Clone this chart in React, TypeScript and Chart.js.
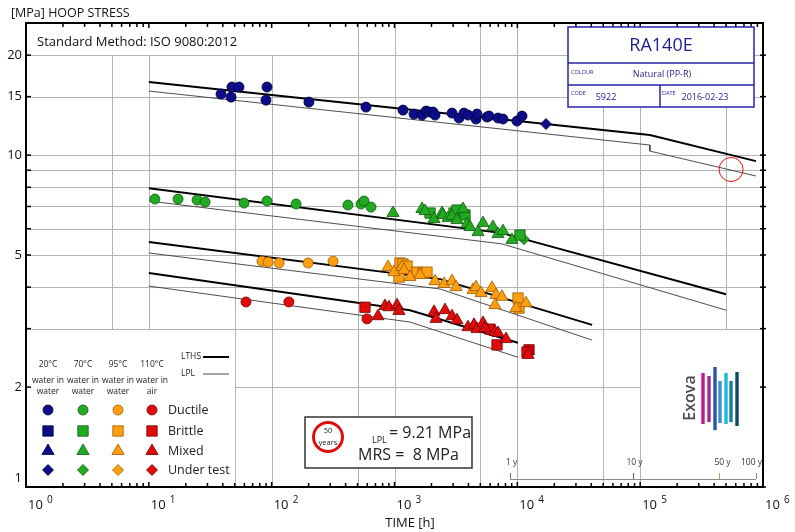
import React, { useEffect, useRef } from 'react';
import { Chart, registerables } from 'chart.js';
Chart.register(...registerables);

const FONT = '"Open Sans", "Noto Sans", "DejaVu Sans", sans-serif';

// ---- axes ----
const X_MIN = 1, X_MAX = 1e6, Y_MIN = 1, Y_MAX = 25;
const xDecades = [1, 10, 100, 1000, 10000, 100000, 1000000];
const xDecadeExponents = ['0', '1', '2', '3', '4', '5', '6'];
const xGridValues = [5, 10, 50, 100, 500, 1000, 5000, 10000, 50000, 100000, 500000];
const yGridValues = [2, 3, 4, 5, 6, 7, 8, 9, 10, 15, 20];
const yTickLabels = [1, 2, 5, 10, 15, 20];

// ---- year scale ----
const yearMarks = [8760, 87600, 438000, 876000];
const yearLabels = ['1 y', '10 y', '50 y', '100 y'];
const yearColors = ['#5b8a5b', '#3a5a9a', '#b0a070', '#8a8a8a'];

// ---- reference lines [hours, MPa] ----
const lths20: [number, number][] = [[10, 16.6], [120000, 11.49], [876000, 9.59]];
const lpl20: [number, number][] = [[10, 15.59], [120000, 10.72], [120000, 10.28], [876000, 8.65]];
const lths70: [number, number][] = [[10, 7.95], [7500, 5.82], [500000, 3.81]];
const lpl70: [number, number][] = [[10, 7.27], [7500, 5.4], [500000, 3.41]];
const lths95: [number, number][] = [[10, 5.47], [2350, 4.23], [40600, 3.08]];
const lpl95: [number, number][] = [[10, 5.07], [2350, 3.95], [40600, 2.77]];
const lths110: [number, number][] = [[10, 4.41], [1337, 3.41], [10100, 2.72]];
const lpl110: [number, number][] = [[10, 4.03], [1337, 3.14], [10100, 2.46]];

// ---- test points [hours, MPa] ----
const blueDuctile: [number, number][] = [
  [38.7, 15.27], [47.5, 16.03], [54.2, 16.03], [46.7, 14.95], [91.6, 16.03], [89.9, 14.64], [201, 14.44],
  [586, 13.95], [1173, 13.66], [1442, 13.29], [1675, 13.2], [1806, 13.57], [1910, 13.48], [2058, 13.48],
  [2137, 13.2], [2940, 13.38], [3352, 12.93], [3680, 13.38], [3966, 13.2], [4610, 12.84], [4697, 13.29],
  [5664, 13.02], [5877, 13.11], [6964, 12.93], [7643, 12.84], [9935, 12.66], [10920, 13.11],
];
const blueUnderTest: [number, number][] = [[17120, 12.4]];

const greenDuctile: [number, number][] = [
  [11.2, 7.37], [17.3, 7.37], [24.7, 7.32], [28.7, 7.22], [59.5, 7.17], [91.6, 7.27], [158, 7.12],
  [418, 7.07], [534, 7.12], [565, 7.27], [644, 6.97],
];
const greenMixed: [number, number][] = [
  [973, 6.69], [1675, 6.88], [1772, 6.78], [2098, 6.42], [2437, 6.69], [2483, 6.6], [2727, 6.46],
  [2940, 6.55], [3228, 6.37], [3613, 6.88], [3894, 6.2], [4120, 6.07], [5255, 6.24], [4786, 5.86],
  [6339, 6.07], [6964, 5.78], [7643, 5.9], [9051, 5.55],
];
const greenBrittle: [number, number][] = [[1946, 6.69], [3051, 6.69], [3228, 6.83], [3751, 6.6], [10510, 5.74]];
const greenUnderTest: [number, number][] = [[11330, 5.58]];

const orangeDuctile: [number, number][] = [[83.4, 4.79], [93.4, 4.76], [115, 4.73], [198, 4.73], [316, 4.79]];
const orangeMixed: [number, number][] = [
  [886, 4.6], [991, 4.44], [1151, 4.6], [1195, 4.5], [1337, 4.29], [1613, 4.35], [2137, 4.17],
  [2530, 4.09], [2940, 4.17], [3168, 4.0], [4357, 3.92], [4610, 4.0], [5062, 3.84], [6221, 3.98],
  [6705, 3.79], [7504, 3.74], [6582, 3.53], [11770, 3.58], [9757, 3.46],
];
const orangeBrittle: [number, number][] = [
  [1109, 4.73], [1173, 4.7], [1265, 4.63], [1088, 4.29], [1525, 4.44], [1707, 4.41], [1839, 4.44],
  [10130, 3.71], [10320, 3.46],
];

const redDuctile: [number, number][] = [[61.8, 3.61], [138, 3.61], [597, 3.21]];
const redBrittle: [number, number][] = [[575, 3.48], [5992, 2.99], [6832, 2.68], [12450, 2.59], [11990, 2.55]];
const redMixed: [number, number][] = [
  [734, 3.27], [837, 3.51], [902, 3.48], [1048, 3.53], [1088, 3.39], [2098, 3.37], [2178, 3.21],
  [2578, 3.41], [2940, 3.27], [3228, 3.18], [3966, 3.03], [4440, 3.08], [4697, 2.99], [5255, 3.12],
  [5457, 3.01], [6582, 2.93], [6964, 2.91], [8090, 2.79], [12220, 2.5],
];

// MRS / LPL marker at 50 years
const lplMarker: [number, number] = [550000, 9.05];

// ---- legend ----
const legendTemps = ['20°C', '70°C', '95°C', '110°C'];
const legendMedia = [['water in', 'water'], ['water in', 'water'], ['water in', 'water'], ['water in', 'air']];
const legendTypes = ['Ductile', 'Brittle', 'Mixed', 'Under test'];

const BLUE = '#0d0d8a', BLUE_E = '#00003a';
const GREEN = '#22aa22', GREEN_E = '#0f5a0f';
const ORANGE = '#ff9f10', ORANGE_E = '#9a5a00';
const RED = '#e00c0c', RED_E = '#700000';
const tempColors = [[BLUE, BLUE_E], [GREEN, GREEN_E], [ORANGE, ORANGE_E], [RED, RED_E]];

const toXY = (arr: [number, number][]) => arr.map(([x, y]) => ({ x, y }));

function lineDs(arr: [number, number][], thick: boolean) {
  return {
    data: toXY(arr), showLine: true, pointRadius: 0, borderColor: thick ? '#000' : '#3a3a3a',
    borderWidth: thick ? 2 : 0.9, fill: false, order: 5, tension: 0,
  };
}
function ptDs(arr: [number, number][], style: string, fill: string, edge: string) {
  const r = style === 'circle' ? 5 : style === 'rect' ? 7.3 : style === 'triangle' ? 7 : 5.5;
  return {
    data: toXY(arr), showLine: false, pointStyle: style, pointRadius: r, pointBackgroundColor: fill,
    pointBorderColor: edge, pointBorderWidth: 0.8, order: 0,
  };
}

function marker(ctx: CanvasRenderingContext2D, style: string, x: number, y: number, fill: string, edge: string) {
  ctx.beginPath();
  if (style === 'circle') ctx.arc(x, y, 5, 0, Math.PI * 2);
  else if (style === 'rect') ctx.rect(x - 5.2, y - 5.2, 10.4, 10.4);
  else if (style === 'triangle') { ctx.moveTo(x, y - 7); ctx.lineTo(x + 6.1, y + 3.5); ctx.lineTo(x - 6.1, y + 3.5); ctx.closePath(); }
  else { ctx.moveTo(x, y - 5.5); ctx.lineTo(x + 5.5, y); ctx.lineTo(x, y + 5.5); ctx.lineTo(x - 5.5, y); ctx.closePath(); }
  ctx.fillStyle = fill; ctx.fill(); ctx.strokeStyle = edge; ctx.lineWidth = 0.8; ctx.stroke();
}

const decor = {
  id: 'decor',
  beforeDatasetsDraw(chart: any) {
    const { ctx, chartArea: a, scales: { x, y } } = chart;
    ctx.save();
    ctx.strokeStyle = '#b4b4b4'; ctx.lineWidth = 1;
    for (const v of yGridValues) {
      const py = Math.round(y.getPixelForValue(v)) + 0.5;
      ctx.beginPath(); ctx.moveTo(a.left, py); ctx.lineTo(a.right, py); ctx.stroke();
    }
    const y20 = y.getPixelForValue(20);
    for (const v of xGridValues) {
      const px = Math.round(x.getPixelForValue(v)) + 0.5;
      ctx.beginPath(); ctx.moveTo(px, v >= 500 ? a.top : y20); ctx.lineTo(px, a.bottom); ctx.stroke();
    }
    ctx.fillStyle = '#fff';
    const y3 = Math.round(y.getPixelForValue(3));
    const x50 = Math.round(x.getPixelForValue(50));
    ctx.fillRect(a.left + 1, y3 + 1, x50 - a.left - 1, a.bottom - y3 - 1);
    const x1e5 = Math.round(x.getPixelForValue(1e5));
    ctx.fillRect(x1e5 + 1.5, y3 + 1, a.right - x1e5 - 2, a.bottom - y3 - 1);
    ctx.restore();
  },
  afterDatasetsDraw(chart: any) {
    const { ctx, chartArea: a, scales: { x, y } } = chart;
    ctx.save();
    // frame
    ctx.strokeStyle = '#000'; ctx.lineWidth = 2;
    ctx.strokeRect(a.left, a.top, a.right - a.left, a.bottom - a.top);
    // x ticks
    ctx.lineWidth = 1.5;
    for (let d = 0; d < 6; d++) {
      for (let m = 1; m <= 9; m++) {
        const v = m * Math.pow(10, d);
        const px = x.getPixelForValue(v);
        const len = m === 1 ? 5 : 4;
        ctx.beginPath(); ctx.moveTo(px, a.bottom); ctx.lineTo(px, a.bottom - len); ctx.stroke();
        ctx.beginPath(); ctx.moveTo(px, a.top); ctx.lineTo(px, a.top + len); ctx.stroke();
      }
    }
    // y ticks
    for (const v of [...yGridValues, 1]) {
      const py = y.getPixelForValue(v);
      ctx.beginPath(); ctx.moveTo(a.left, py); ctx.lineTo(a.left + 5, py); ctx.stroke();
      ctx.beginPath(); ctx.moveTo(a.right - 3, py); ctx.lineTo(a.right + 3, py); ctx.stroke();
    }
    // y labels
    ctx.fillStyle = '#111'; ctx.font = `13px ${FONT}`; ctx.textAlign = 'right'; ctx.textBaseline = 'middle';
    for (const v of yTickLabels) {
      const py = y.getPixelForValue(v);
      ctx.fillText(String(v), 22, v === 1 ? py - 9 : py);
    }
    // x labels
    ctx.textAlign = 'left';
    xDecades.forEach((v, i) => {
      const px = x.getPixelForValue(v);
      ctx.font = `13px ${FONT}`; ctx.fillText('10', px + 2, 505);
      ctx.font = `10px ${FONT}`; ctx.fillText(xDecadeExponents[i], px + 21, 500);
    });
    ctx.font = `13px ${FONT}`; ctx.textAlign = 'center';
    ctx.fillText('TIME [h]', 410, 523);
    // titles
    ctx.textAlign = 'left';
    ctx.font = `12.5px ${FONT}`; ctx.fillText('[MPa] HOOP STRESS', 11, 13);
    ctx.font = `13px ${FONT}`; ctx.fillText('Standard Method: ISO 9080:2012', 37, 42);

    // top-right info box
    ctx.fillStyle = '#fff'; ctx.fillRect(568, 27, 186, 80);
    ctx.strokeStyle = '#2626a6'; ctx.lineWidth = 1.5;
    ctx.strokeRect(568, 27, 186, 80);
    ctx.beginPath(); ctx.moveTo(568, 63); ctx.lineTo(754, 63); ctx.moveTo(568, 85); ctx.lineTo(754, 85);
    ctx.moveTo(660, 85); ctx.lineTo(660, 107); ctx.stroke();
    ctx.fillStyle = '#1e1e8e'; ctx.textAlign = 'center'; ctx.textBaseline = 'middle';
    ctx.font = `18px ${FONT}`; ctx.fillText('RA140E', 661, 46);
    ctx.font = `9px ${FONT}`; ctx.fillText('Natural (PP-R)', 662, 74);
    ctx.fillText('5922', 606, 97); ctx.fillText('2016-02-23', 705, 97);
    ctx.textAlign = 'left'; ctx.font = `5.5px ${FONT}`;
    ctx.fillText('COLOUR', 571, 72); ctx.fillText('CODE', 571, 93); ctx.fillText('DATE', 662, 93);

    // LPL 50 year marker
    ctx.strokeStyle = '#e01010'; ctx.lineWidth = 1;
    ctx.beginPath(); ctx.arc(x.getPixelForValue(lplMarker[0]), y.getPixelForValue(lplMarker[1]), 12, 0, Math.PI * 2); ctx.stroke();

    // MRS box
    ctx.fillStyle = '#fff'; ctx.fillRect(305, 417, 167, 51);
    ctx.strokeStyle = '#333'; ctx.lineWidth = 1.5; ctx.strokeRect(305, 417, 167, 51);
    ctx.strokeStyle = '#dd1010'; ctx.lineWidth = 3;
    ctx.beginPath(); ctx.arc(328, 437, 14.5, 0, Math.PI * 2); ctx.stroke();
    ctx.fillStyle = '#222'; ctx.textAlign = 'center'; ctx.font = `7.5px ${FONT}`;
    ctx.fillText('50', 328, 431); ctx.fillText('years', 328, 443);
    ctx.textAlign = 'left';
    ctx.font = `9px ${FONT}`; ctx.fillText('LPL', 372, 440);
    ctx.font = `16px ${FONT}`; ctx.fillText('= 9.21 MPa', 389, 433);
    ctx.fillText('MRS =  8 MPa', 358, 455);

    // year scale
    const ys = 479;
    ctx.strokeStyle = '#8a8a8a'; ctx.lineWidth = 1;
    const x1y = x.getPixelForValue(yearMarks[0]), x100y = x.getPixelForValue(yearMarks[3]);
    ctx.beginPath(); ctx.moveTo(x1y, ys + 0.5); ctx.lineTo(x100y, ys + 0.5); ctx.stroke();
    ctx.font = `8.5px ${FONT}`; ctx.textAlign = 'center'; ctx.fillStyle = '#333';
    yearMarks.forEach((v, i) => {
      const px = Math.round(x.getPixelForValue(v)) + 0.5;
      ctx.strokeStyle = yearColors[i];
      ctx.beginPath(); ctx.moveTo(px, ys - 6); ctx.lineTo(px, ys); ctx.stroke();
      ctx.fillText(yearLabels[i], i === 3 ? px - 5 : i === 2 ? px + 3 : px + 1, 463);
    });

    // logo
    const bars: [number, number, number, string][] = [
      [703, 373, 424, '#c7168e'], [709, 376, 422, '#a3288f'], [715, 367, 430, '#2c54a8'],
      [720, 381, 423, '#3b8ed0'], [726, 373, 424, '#1fb6d9'], [731, 381, 422, '#1a7f99'], [737, 372, 426, '#0e4d5e'],
    ];
    for (const [bx, b1, b2, c] of bars) { ctx.fillStyle = c; ctx.fillRect(bx - 1.7, b1, 3.4, b2 - b1); }
    ctx.save();
    ctx.translate(690, 398); ctx.rotate(-Math.PI / 2);
    ctx.fillStyle = '#4a4a4a'; ctx.font = `600 16px ${FONT}`; ctx.textAlign = 'center'; ctx.textBaseline = 'middle';
    ctx.fillText('Exova', 0, 0);
    ctx.restore();

    // legend
    ctx.fillStyle = '#222'; ctx.textAlign = 'center'; ctx.textBaseline = 'middle';
    const lx = [48, 83, 118, 152];
    ctx.font = `8.5px ${FONT}`;
    legendTemps.forEach((t, i) => {
      ctx.fillText(t, lx[i], 365);
      ctx.fillText(legendMedia[i][0], lx[i], 381);
      ctx.fillText(legendMedia[i][1], lx[i], 392);
    });
    const styles = ['circle', 'rect', 'triangle', 'rectRot'];
    const ly = [410, 431, 451, 470];
    styles.forEach((s, r) => {
      lx.forEach((cx, c) => marker(ctx, s, cx, ly[r], tempColors[c][0], tempColors[c][1]));
    });
    ctx.fillStyle = '#222'; ctx.textAlign = 'left'; ctx.font = `12.5px ${FONT}`;
    legendTypes.forEach((t, r) => ctx.fillText(t, 168, ly[r]));
    ctx.font = `8.5px ${FONT}`;
    ctx.fillText('LTHS', 181, 357); ctx.fillText('LPL', 181, 374);
    ctx.strokeStyle = '#000'; ctx.lineWidth = 2;
    ctx.beginPath(); ctx.moveTo(203, 357); ctx.lineTo(229, 357); ctx.stroke();
    ctx.lineWidth = 0.9; ctx.strokeStyle = '#333';
    ctx.beginPath(); ctx.moveTo(203, 374); ctx.lineTo(229, 374); ctx.stroke();
    ctx.restore();
  },
};

export default function App() {
  const ref = useRef<HTMLCanvasElement>(null);
  useEffect(() => {
    if (!ref.current) return;
    const chart = new Chart(ref.current, {
      type: 'scatter',
      data: {
        datasets: [
          lineDs(lths20, true), lineDs(lpl20, false), lineDs(lths70, true), lineDs(lpl70, false),
          lineDs(lths95, true), lineDs(lpl95, false), lineDs(lths110, true), lineDs(lpl110, false),
          ptDs(blueDuctile, 'circle', BLUE, BLUE_E), ptDs(blueUnderTest, 'rectRot', BLUE, BLUE_E),
          ptDs(greenDuctile, 'circle', GREEN, GREEN_E), ptDs(greenMixed, 'triangle', GREEN, GREEN_E),
          ptDs(greenBrittle, 'rect', GREEN, GREEN_E), ptDs(greenUnderTest, 'rectRot', GREEN, GREEN_E),
          ptDs(orangeDuctile, 'circle', ORANGE, ORANGE_E), ptDs(orangeMixed, 'triangle', ORANGE, ORANGE_E),
          ptDs(orangeBrittle, 'rect', ORANGE, ORANGE_E),
          ptDs(redDuctile, 'circle', RED, RED_E), ptDs(redMixed, 'triangle', RED, RED_E),
          ptDs(redBrittle, 'rect', RED, RED_E),
        ] as any,
      },
      options: {
        animation: false, responsive: false, maintainAspectRatio: false,
        layout: { padding: { left: 26, right: 32, top: 23, bottom: 45 } },
        plugins: { legend: { display: false }, tooltip: { enabled: false } },
        scales: {
          x: { type: 'logarithmic', min: X_MIN, max: X_MAX, display: false },
          y: { type: 'logarithmic', min: Y_MIN, max: Y_MAX, display: false },
        },
      } as any,
      plugins: [decor],
    });
    return () => chart.destroy();
  }, []);
  return (
    <div style={{ position: 'absolute', left: 0, top: 0, width: 795, height: 532, background: '#fff' }}>
      <canvas ref={ref} width={795} height={532} style={{ display: 'block', width: 795, height: 532 }} />
    </div>
  );
}
